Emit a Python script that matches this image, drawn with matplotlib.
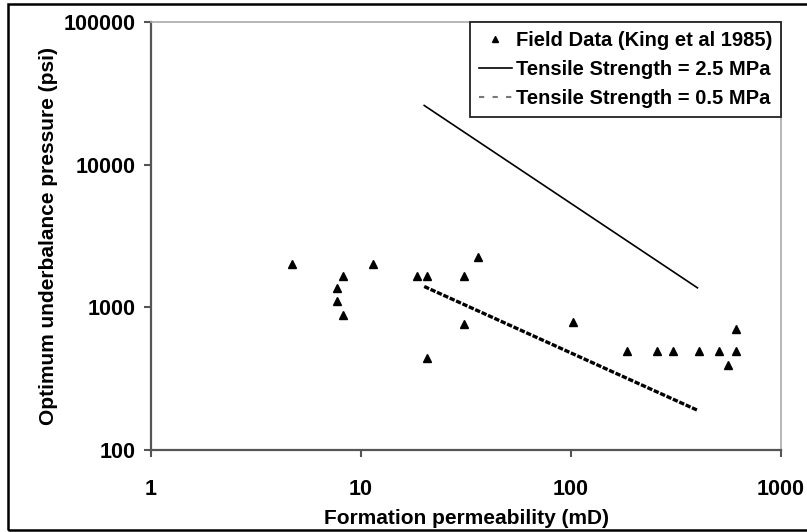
import matplotlib
matplotlib.use("Agg")
from matplotlib import pyplot as plt
from matplotlib.lines import Line2D
from matplotlib.patches import Rectangle

plt.rcParams['font.family'] = ['Liberation Sans', 'DejaVu Sans']
plt.rcParams['font.weight'] = 'bold'

# field data (King et al 1985)
field_perm = [4.7, 7.7, 7.7, 8.2, 8.2, 11.4, 18.5, 20.6, 20.6, 30.8, 30.8,
              35.9, 102, 185, 256, 305, 408, 509, 557, 611, 611]
field_pressure = [2020, 1370, 1100, 1670, 890, 2020, 1650, 1650, 440, 1650,
                  760, 2270, 790, 495, 495, 495, 495, 495, 397, 495, 700]

# model lines
ts25_perm = [20, 400]
ts25_pressure = [26000, 1370]
ts05_perm = [20, 400]
ts05_pressure = [1400, 190]

x_ticks = [1, 10, 100, 1000]
x_labels = ['1', '10', '100', '1000']
y_ticks = [100, 1000, 10000, 100000]
y_labels = ['100', '1000', '10000', '100000']

fig = plt.figure(figsize=(8.07, 5.32), dpi=100)
ax = fig.add_axes([151 / 807, 82 / 532, 630 / 807, 428 / 532])

ax.plot(field_perm, field_pressure, linestyle='none', marker='^',
        markersize=6, color='k', clip_on=False)
ax.plot(ts25_perm, ts25_pressure, color='k', lw=1.2)
ax.plot(ts05_perm, ts05_pressure, color='k', lw=2.4, dashes=(1.6, 0.5))

ax.set_xscale('log')
ax.set_yscale('log')
ax.set_xlim(1, 1000)
ax.set_ylim(100, 100000)
ax.set_xticks(x_ticks)
ax.set_xticklabels(x_labels)
ax.set_yticks(y_ticks)
ax.set_yticklabels(y_labels)
ax.minorticks_off()

ax.tick_params(axis='both', which='major', direction='out', length=5,
               width=1.5, color='#555555', labelsize=15.5)
ax.tick_params(axis='x', pad=16)
ax.tick_params(axis='y', pad=6)

for side in ['left', 'bottom']:
    ax.spines[side].set_color('#555555')
    ax.spines[side].set_linewidth(1.6)
for side in ['top', 'right']:
    ax.spines[side].set_color('#aaaaaa')
    ax.spines[side].set_linewidth(1.2)

ax.set_xlabel('Formation permeability (mD)', fontsize=15, fontweight='bold',
              labelpad=6)
ax.set_ylabel('Optimum underbalance pressure (psi)', fontsize=15,
              fontweight='bold')
ax.yaxis.set_label_coords(-0.148, 0.5)

handles = [
    Line2D([], [], linestyle='none', marker='^', markersize=4, color='k'),
    Line2D([], [], color='k', lw=1.2),
    Line2D([], [], color='#777777', lw=1.5, dashes=(2.5, 4)),
]
labels = ['Field Data (King et al 1985)', 'Tensile Strength = 2.5 MPa',
          'Tensile Strength = 0.5 MPa']
leg = ax.legend(handles, labels, loc='upper right', borderaxespad=0,
                fancybox=False, framealpha=1, edgecolor='#222222',
                prop={'size': 14.5, 'weight': 'bold'}, handlelength=1.6,
                handletextpad=0.2, labelspacing=0.5, borderpad=0.45)
leg.get_frame().set_linewidth(1.3)

# outer frame around the picture
fig.patches.append(Rectangle((8 / 807, 2 / 532), 1.2, 526 / 532,
                             transform=fig.transFigure, fill=False,
                             edgecolor='k', lw=1.8))

fig.savefig('out.png', dpi=100)
